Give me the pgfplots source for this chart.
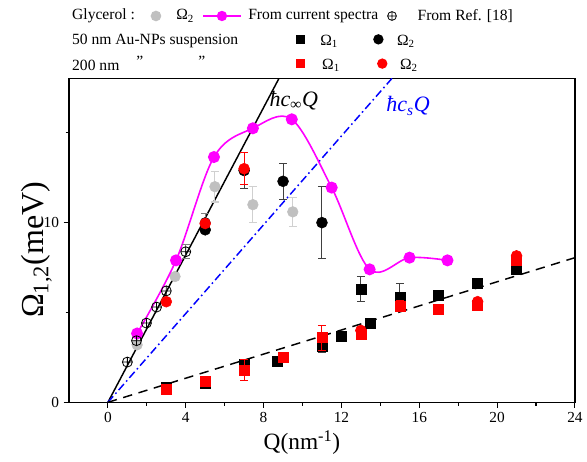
\documentclass[border=0pt]{standalone}
\usepackage{pgfplots}
\pgfplotsset{compat=1.18}
\usepackage{fontspec}
\setmainfont{Liberation Serif}
\definecolor{glyc}{HTML}{C0C0C0}
\definecolor{glycbar}{HTML}{D0D0D0}
\definecolor{mag}{HTML}{FF00FF}
\definecolor{dbar}{HTML}{404040}
\newcommand{\lf}{\rmfamily\fontsize{11.7}{14}\selectfont}
\begin{document}
\begin{tikzpicture}
\begin{axis}[
  scale only axis, width=379.5pt, height=242.6pt,
  xmin=-2, xmax=24, ymin=0, ymax=18,
  xtick={0,4,...,24}, minor xtick={2,6,...,22},
  ytick={0,10}, minor ytick={5,15},
  xtick pos=left, ytick pos=left,
  tick align=outside, major tick length=4pt, minor tick length=2.5pt,
  every tick/.style={black, line width=0.8pt},
  axis line style={line width=0.9pt},
  tick label style={font=\rmfamily\fontsize{11.5}{13}\selectfont},
  /pgf/number format/assume math mode=true,
  xlabel={Q(nm\textsuperscript{-1})},
  ylabel={Ω\textsubscript{1,2}(meV)},
  xlabel style={font=\rmfamily\fontsize{17.5}{19}\selectfont, yshift=1pt, xshift=-15pt},
  ylabel style={font=\rmfamily\fontsize{24}{26}\selectfont, yshift=-13pt, xshift=-7pt},
  clip mode=individual,
]
% lines
\addplot[black, line width=1.1pt] coordinates {(0,0) (9.5,19.48)};
\addplot[blue, line width=1.1pt, dash pattern=on 6pt off 2.5pt on 1.2pt off 2.5pt] coordinates {(0,0) (16,19.76)};
\addplot[black, line width=1.1pt, dash pattern=on 7pt off 5pt] coordinates {(0,0) (24,8.05)};
% glycerol
\addplot[only marks, mark=*, mark size=4pt, color=glyc] coordinates {(1.5,3.2) (3.45,7.0)};
\addplot[only marks, mark=*, mark size=4pt, color=glyc,
  error bars/.cd, y dir=both, y explicit,
  error bar style={glycbar, line width=0.8pt},
  error mark options={rotate=90, glycbar, mark size=3pt, line width=0.8pt}]
  coordinates {(5.5,12.0) +- (0,0.85) (7.45,11.0) +- (0,1.0) (9.5,10.6) +- (0,0.8)};
% current spectra
\addplot[mag, line width=1.2pt, smooth, tension=0.55, mark=*, mark size=3.9pt, mark options={fill=mag, draw=mag}]
  coordinates {(1.5,3.83) (3.5,7.9) (5.45,13.65) (7.45,15.25) (9.45,15.75) (11.5,11.95) (13.45,7.4) (15.5,8.05) (17.45,7.9)};
% Ref [18]
\addplot[only marks, mark=oplus, mark size=3.75pt, black, mark options={line width=0.6pt}]
  coordinates {(1.0,2.24) (1.47,3.43) (1.98,4.41) (2.5,5.3) (3.0,6.2)};
\addplot[only marks, mark=oplus, mark size=3.75pt, black, mark options={line width=0.6pt},
  error bars/.cd, y dir=both, y explicit,
  error bar style={gray, line width=0.7pt},
  error mark options={rotate=90, gray, mark size=3pt, line width=0.7pt}]
  coordinates {(4.0,8.38) +- (0,0.4) (5.0,10.0) +- (0,0.5)};
% 50 nm Omega1
\addplot[only marks, mark=square*, mark size=3.75pt, black]
  coordinates {(3,0.85) (5,1.05) (7,2.1) (8.7,2.3) (12,3.7) (13.5,4.4) (17,5.93) (19,6.6) (21,7.4)};
\addplot[only marks, mark=square*, mark size=3.75pt, black,
  error bars/.cd, y dir=both, y explicit,
  error bar style={dbar, line width=0.8pt},
  error mark options={rotate=90, dbar, mark size=3pt, line width=0.8pt}]
  coordinates {(11,3.1) +- (0,0.3) (13,6.3) +- (0,0.7) (15,5.85) +- (0,0.75)};
% 200 nm Omega1
\addplot[only marks, mark=square*, mark size=3.75pt, red]
  coordinates {(3,0.75) (5,1.15) (9,2.5) (13,3.8) (17,5.2) (19,5.4) (21,7.9)};
\addplot[only marks, mark=square*, mark size=3.75pt, red,
  error bars/.cd, y dir=both, y explicit,
  error bar style={red, line width=0.8pt},
  error mark options={rotate=90, red, mark size=3pt, line width=0.8pt}]
  coordinates {(7,1.8) +- (0,0.6) (11,3.6) +- (0,0.7) (15,5.35) +- (0,0.3)};
% 50 nm Omega2
\addplot[only marks, mark=*, mark size=4.1pt, black] coordinates {(5,9.6)};
\addplot[only marks, mark=*, mark size=4.1pt, black,
  error bars/.cd, y dir=both, y explicit,
  error bar style={dbar, line width=0.8pt},
  error mark options={rotate=90, dbar, mark size=3pt, line width=0.8pt}]
  coordinates {(7,12.9) +- (0,1.0) (9,12.3) +- (0,1.0) (11,10.0) +- (0,2.0)};
% 200 nm Omega2
\addplot[only marks, mark=*, mark size=4.1pt, red]
  coordinates {(3,5.6) (5,9.95) (13,4.0) (19,5.6) (21,8.15)};
\addplot[only marks, mark=*, mark size=4.1pt, red,
  error bars/.cd, y dir=both, y explicit,
  error bar style={red, line width=0.8pt},
  error mark options={rotate=90, red, mark size=3pt, line width=0.8pt}]
  coordinates {(7,13.0) +- (0,0.9)};
% line labels
\node[anchor=west, inner sep=0, font=\rmfamily\fontsize{16.5}{18}\selectfont\itshape] at (axis cs:8.3,16.8) {ħc\textsubscript{∞}Q};
\node[anchor=west, inner sep=0, font=\rmfamily\fontsize{16.5}{18}\selectfont\itshape, text=blue] at (axis cs:14.3,16.5) {ħc\textsubscript{s}Q};
% legend row 1
\node[anchor=west, inner sep=0, font=\lf] at (axis cs:-1.85,21.5) {Glycerol :};
\node[inner sep=0] at (axis cs:2.47,21.5) {\tikz\fill[glyc] (0,0) circle (4pt);};
\node[anchor=west, inner sep=0, font=\lf] at (axis cs:3.5,21.5) {Ω\textsubscript{2}};
\node[inner sep=0] at (axis cs:5.86,21.5) {\tikz{\draw[mag, line width=1.2pt] (-14pt,0)--(14pt,0); \fill[mag] (0,0) circle (3.9pt);}};
\node[anchor=west, inner sep=0, font=\lf] at (axis cs:7.2,21.5) {From current spectra};
\node[inner sep=0] at (axis cs:14.6,21.5) {\tikz{\draw[line width=0.6pt] (0,0) circle (3.3pt) (-3.3pt,0)--(3.3pt,0) (0,-3.3pt)--(0,3.3pt);}};
\node[anchor=west, inner sep=0, font=\lf] at (axis cs:15.9,21.5) {From Ref. [18]};
% legend row 2
\node[anchor=west, inner sep=0, font=\lf] at (axis cs:-1.85,20.1) {50 nm Au-NPs suspension};
\node[inner sep=0] at (axis cs:9.9,20.2) {\tikz\fill[black] (-3.4pt,-3.4pt) rectangle (3.4pt,3.4pt);};
\node[anchor=west, inner sep=0, font=\lf] at (axis cs:10.9,20.1) {Ω\textsubscript{1}};
\node[inner sep=0] at (axis cs:13.9,20.2) {\tikz\fill[black] (0,0) circle (3.9pt);};
\node[anchor=west, inner sep=0, font=\lf] at (axis cs:14.85,20.1) {Ω\textsubscript{2}};
% legend row 3
\node[anchor=west, inner sep=0, font=\lf] at (axis cs:-1.85,18.75) {200 nm};
\node[inner sep=0, font=\lf] at (axis cs:1.64,18.95) {\symbol{34}};
\node[inner sep=0, font=\lf] at (axis cs:4.83,18.95) {\symbol{34}};
\node[inner sep=0] at (axis cs:9.9,18.85) {\tikz\fill[red] (-3.4pt,-3.4pt) rectangle (3.4pt,3.4pt);};
\node[anchor=west, inner sep=0, font=\lf] at (axis cs:11.0,18.75) {Ω\textsubscript{1}};
\node[inner sep=0] at (axis cs:14.1,18.85) {\tikz\fill[red] (0,0) circle (3.9pt);};
\node[anchor=west, inner sep=0, font=\lf] at (axis cs:15.0,18.75) {Ω\textsubscript{2}};
\coordinate (bl) at (axis cs:-5.545,-3.30);
\coordinate (tr) at (axis cs:24.62,22.39);
\end{axis}
\pgfresetboundingbox
\path[use as bounding box] (bl) rectangle (tr);
\end{tikzpicture}
\end{document}
